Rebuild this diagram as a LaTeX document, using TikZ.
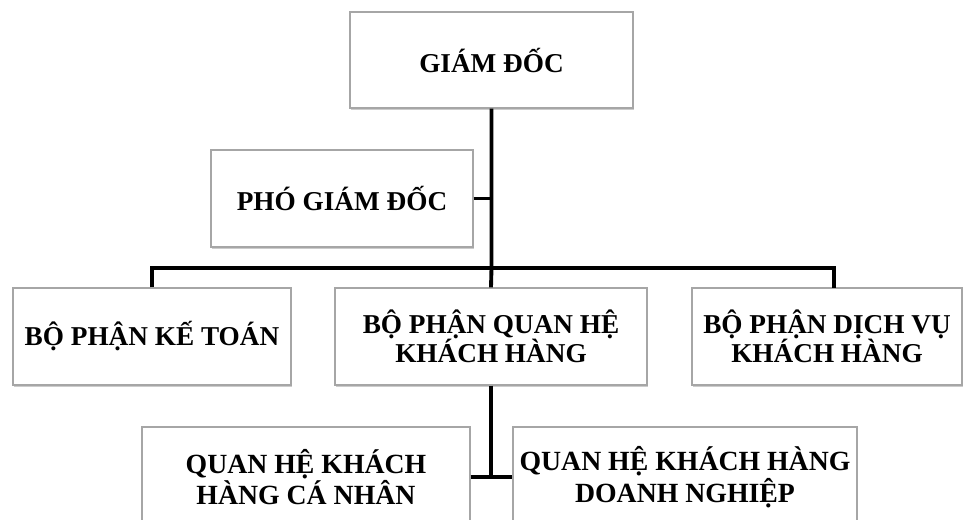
\documentclass[tikz,border=0pt]{standalone}
\usepackage{fontspec}
\setmainfont{Liberation Serif}
\usepackage{tikz}
\usetikzlibrary{shadows}

\tikzset{
  khung/.style={draw=gray!70, line width=0.7pt, fill=white, align=center, inner sep=0pt,
    font=\bfseries\fontsize{15.5}{16.5}\selectfont,
    drop shadow={shadow xshift=0.8pt, shadow yshift=-1.2pt, opacity=0.4, fill=gray}},
  khungduoi/.style={khung, font=\bfseries\fontsize{15.8}{18}\selectfont},
  noi/.style={black, line width=2.2pt}
}

\begin{document}
\begin{tikzpicture}

\useasboundingbox (0,0) rectangle (19.3,-10.38);
\clip (0,0) rectangle (19.3,-10.38);

% cap tren
\node[khung, minimum width=5.66cm, minimum height=1.92cm] (gd) at (9.83,-1.20) {GIÁM ĐỐC};
\node[khung, minimum width=5.24cm, minimum height=1.94cm] (pgd) at (6.84,-3.97) {PHÓ GIÁM ĐỐC};

% cac bo phan
\node[khung, minimum width=5.56cm, minimum height=1.94cm] (kt) at (3.04,-6.73) {BỘ PHẬN KẾ TOÁN};
\node[khung, minimum width=6.24cm, minimum height=1.94cm] (qh) at (9.82,-6.73) {BỘ PHẬN QUAN HỆ\\KHÁCH HÀNG};
\node[khung, minimum width=5.40cm, minimum height=1.94cm] (dv) at (16.54,-6.73) {BỘ PHẬN DỊCH VỤ\\KHÁCH HÀNG};

% quan he khach hang
\node[khungduoi, minimum width=6.56cm, minimum height=2cm] (qhcn) at (6.12,-9.54) {QUAN HỆ KHÁCH\\HÀNG CÁ NHÂN};
\node[khungduoi, minimum width=6.88cm, minimum height=2cm] (qhdn) at (13.70,-9.54) {QUAN HỆ KHÁCH HÀNG\\DOANH NGHIỆP};

\coordinate (bus) at (9.83,-5.36);
\coordinate (dvdrop) at (16.68,-5.76);

\draw[noi] (gd.south) -- (bus) -- (qh.north);
\draw[noi] (pgd.east) -- (pgd.east -| gd.south);
\draw[noi] (kt.north) |- (bus) -| (dvdrop);

\draw[noi] (qh.south) -- (qh.south |- qhcn.east);
\draw[noi] (qhcn.east) -- (qhdn.west);

\end{tikzpicture}
\end{document}
